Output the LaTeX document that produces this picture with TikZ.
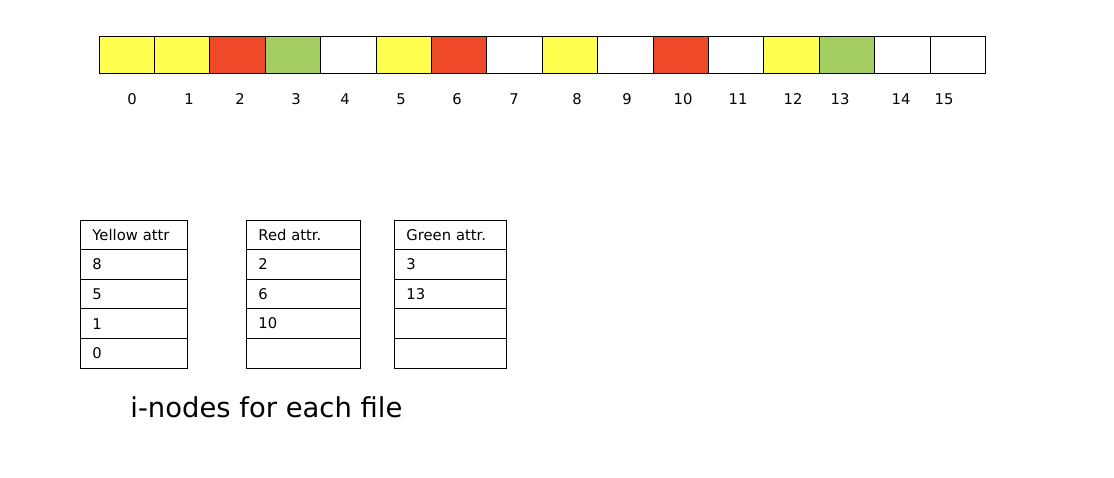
\documentclass[tikz,border=0pt]{standalone}
\usepackage{fontspec}
\setmainfont{DejaVu Sans}
\usepackage{tikz}
\usetikzlibrary{positioning}

\definecolor{blkyellow}{RGB}{255,255,80}
\definecolor{blkred}{RGB}{238,74,42}
\definecolor{blkgreen}{RGB}{163,207,98}

\begin{document}
\begin{tikzpicture}[x=0.025cm, y=-0.025cm, line width=0.6pt,
  cellbox/.style={draw, inner sep=0pt, minimum width=1.385cm, minimum height=0.925cm},
  rowbox/.style={draw, outer sep=0pt, inner ysep=0pt, inner xsep=0.31cm, minimum height=0.74cm, text width=#1, align=left, font=\fontsize{10.5}{12}\selectfont},
  numlabel/.style={font=\fontsize{10.5}{12}\selectfont}]
\useasboundingbox (0,0) rectangle (1114,478);

% Bloques del disco
\foreach \c [count=\i from 0] in {blkyellow,blkyellow,blkred,blkgreen,white,blkyellow,blkred,white,
                                  blkyellow,white,blkred,white,blkyellow,blkgreen,white,white}
  \node[cellbox, fill=\c] (c\i) at (126.7+55.4*\i, 54.5) {};

% Numeros de bloque
\foreach \i/\x in {0/132,1/189,2/240,3/296,4/345,5/401,6/457,7/514,
                   8/577,9/627,10/683,11/738,12/793,13/840,14/901,15/944}
  \node[numlabel] (n\i) at (\x, 99) {\i};

% i-nodos
\node[rowbox=2.055cm] (y1) at (133.5, 234.8) {Yellow attr};
\foreach \t [count=\k from 2] in {8,5,1,0}
  \node[rowbox=2.055cm, below=0pt of y\the\numexpr\k-1\relax] (y\k) {\t};

\node[rowbox=2.23cm] (r1) at (303, 234.8) {Red attr.};
\foreach \t [count=\k from 2] in {2,6,10,{}}
  \node[rowbox=2.23cm, below=0pt of r\the\numexpr\k-1\relax] (r\k) {\t};

\node[rowbox=2.18cm] (g1) at (450, 234.8) {Green attr.};
\foreach \t [count=\k from 2] in {3,13,{},{}}
  \node[rowbox=2.18cm, below=0pt of g\the\numexpr\k-1\relax] (g\k) {\t};

\node[anchor=base west, inner sep=0pt, font=\fontsize{19.5}{22}\selectfont] (caption) at (130, 418) {i-nodes for each file};
\end{tikzpicture}
\end{document}
